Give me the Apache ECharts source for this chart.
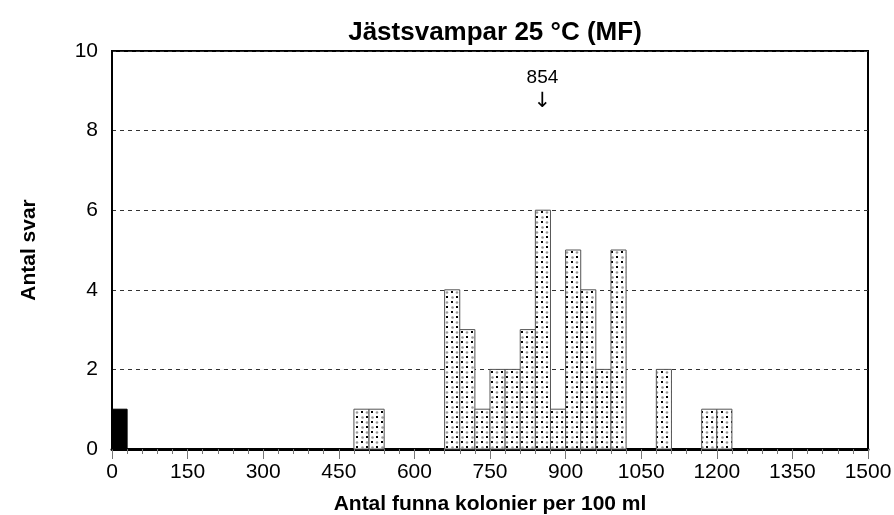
<!DOCTYPE html>
<html>
<head>
<meta charset="utf-8">
<script src="https://cdn.jsdelivr.net/npm/echarts@6/dist/echarts.min.js"></script>
<style>
html,body{margin:0;padding:0;background:#fff;}
#main{width:894px;height:515px;}
</style>
</head>
<body>
<div id="main"></div>
<script>
// bin start (kolonier per 100 ml), each bin is 30 wide
var binStart = [0, 480, 510, 660, 690, 720, 750, 780, 810, 840, 870, 900, 930, 960, 990, 1080, 1170, 1200];
var antal    = [1, 1,   1,   4,   3,   1,   2,   2,   3,   6,   1,   5,   4,   2,   5,   2,    1,    1];
var binWidth = 30;
var medianValue = 854;
var xTicks = [0, 150, 300, 450, 600, 750, 900, 1050, 1200, 1350, 1500];

// dotted fill like the old excel pattern
function makePattern(){
	var c = document.createElement('canvas');
	c.width = 10; c.height = 10;
	var ctx = c.getContext('2d');
	ctx.fillStyle = '#fff';
	ctx.fillRect(0,0,10,10);
	ctx.fillStyle = '#999';
	ctx.beginPath(); ctx.arc(7,2.5,1.3,0,Math.PI*2); ctx.fill();
	ctx.beginPath(); ctx.arc(2.5,7.5,1.3,0,Math.PI*2); ctx.fill();
	ctx.fillStyle = '#000';
	ctx.fillRect(1,1,2,2);
	ctx.fillRect(6,6,2,2);
	return c;
}
var pattern = {image: makePattern(), repeat: 'repeat'};

var chart = echarts.init(document.getElementById('main'));

var barData = [];
for (var i = 0; i < binStart.length; i++) {
	barData.push([binStart[i], antal[i]]);
}

var option = {
	animation: false,
	title: {
		text: 'Jästsvampar 25 °C (MF)',
		left: 490, top: 15, textAlign: 'center',
		textStyle: {fontFamily: 'Liberation Sans', fontSize: 26, fontWeight: 'bold', color: '#000'}
	},
	grid: {
		left: 112, right: 26, top: 51, bottom: 66,
		containLabel: false, outerBoundsMode: 'none',
		show: true, borderColor: '#000', borderWidth: 2
	},
	xAxis: {
		type: 'value', min: 0, max: 1500, interval: 150,
		name: 'Antal funna kolonier per 100 ml', nameLocation: 'middle', nameGap: 45,
		nameTextStyle: {fontFamily: 'Liberation Sans', fontSize: 21, fontWeight: 'bold', color: '#000'},
		axisLine: {onZero: false, lineStyle: {color: '#000', width: 3}},
		axisTick: {show: true, length: 10, lineStyle: {color: '#777', width: 1}},
		minorTick: {show: true, splitNumber: 5, length: 5, lineStyle: {color: '#777', width: 1}},
		axisLabel: {
			fontFamily: 'Liberation Sans', fontSize: 21, color: '#000', margin: 13,
			formatter: function(v){ return xTicks.indexOf(v) >= 0 ? String(v) : ''; }
		},
		splitLine: {show: false}
	},
	yAxis: {
		type: 'value', min: 0, max: 10, interval: 2,
		name: 'Antal svar', nameLocation: 'middle', nameGap: 72, nameRotate: 90,
		nameTextStyle: {fontFamily: 'Liberation Sans', fontSize: 21, fontWeight: 'bold', color: '#000'},
		axisLine: {show: true, lineStyle: {color: '#000', width: 2}},
		axisTick: {show: false},
		axisLabel: {fontFamily: 'Liberation Sans', fontSize: 21, color: '#000', margin: 14},
		splitLine: {show: true, lineStyle: {color: '#333', type: [4, 4], width: 1}}
	},
	series: [{
		type: 'custom',
		data: barData,
		renderItem: function(params, api){
			var x0 = api.value(0), v = api.value(1);
			var p0 = api.coord([x0, 0]);
			var p1 = api.coord([x0 + binWidth, v]);
			var solid = x0 === 0;
			return {
				type: 'rect',
				shape: {x: p0[0], y: p1[1], width: p1[0] - p0[0], height: p0[1] - p1[1]},
				style: {
					fill: solid ? '#000' : pattern,
					stroke: solid ? '#000' : '#555',
					lineWidth: 1
				}
			};
		},
		z: 3
	}, {
		type: 'scatter',
		symbolSize: 0,
		silent: true,
		itemStyle: {opacity: 1},
		data: [[medianValue, 8.44]],
		label: {
			show: true, position: 'top', distance: 0,
			formatter: '{a|' + medianValue + '}\n{b|↓}',
			rich: {
				a: {fontFamily: 'Liberation Sans', fontSize: 19, lineHeight: 22, color: '#000'},
				b: {fontFamily: 'DejaVu Sans', fontSize: 21, lineHeight: 24, color: '#000'}
			}
		},
		z: 5
	}]
};
chart.setOption(option);
</script>
</body>
</html>
